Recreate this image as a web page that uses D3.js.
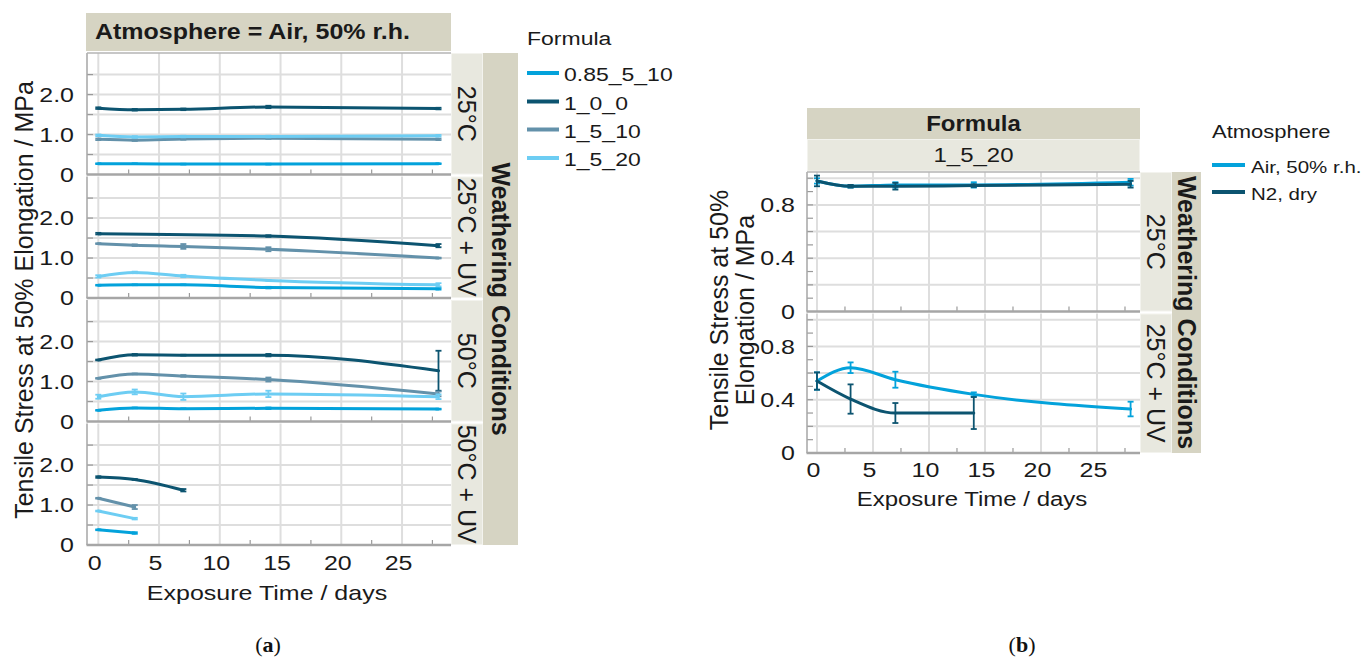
<!DOCTYPE html>
<html>
<head>
<meta charset="utf-8">
<script src="https://cdn.jsdelivr.net/npm/d3@7"></script>
<style>
  body { margin: 0; background: #ffffff; }
  svg { display: block; font-family: "Liberation Sans", Arial, sans-serif; }
</style>
</head>
<body>
<svg id="chart" width="1368" height="657"></svg>
<script>
// ---- data ---------------------------------------------------------------
// Exposure times in days
const days = [0, 3, 7, 14, 28];
const conditions = ["25°C", "25°C + UV", "50°C", "50°C + UV"];
const formulas = ["0.85_5_10", "1_0_0", "1_5_10", "1_5_20"];
const formulaColors = ["#03a2db", "#0c5470", "#6391aa", "#6dcdf3"];

// Tensile stress at 50 % elongation (MPa), Atmosphere = Air, 50% r.h.
// rows follow `conditions`, columns follow `days`
const stress_085_5_10 = [
  [0.27, 0.27, 0.26, 0.26, 0.27],
  [0.32, 0.33, 0.33, 0.26, 0.23],
  [0.28, 0.34, 0.32, 0.33, 0.31],
  [0.38, 0.30, null, null, null]
];
const stress_1_0_0 = [
  [1.66, 1.62, 1.63, 1.69, 1.65],
  [1.61, null, null, 1.55, 1.31],
  [1.54, 1.67, 1.66, 1.66, 1.27],
  [1.70, 1.64, 1.37, null, null]
];
const stress_1_5_10 = [
  [0.88, 0.86, 0.89, 0.91, 0.88],
  [1.36, 1.32, 1.29, 1.22, 1.00],
  [1.08, 1.19, 1.14, 1.05, 0.69],
  [1.17, 0.95, null, null, null]
];
const stress_1_5_20 = [
  [0.98, 0.94, 0.95, 0.95, 0.97],
  [0.54, 0.64, 0.55, 0.44, 0.33],
  [0.62, 0.74, 0.62, 0.69, 0.62],
  [0.85, 0.66, null, null, null]
];

// Standard deviations (MPa), same layout
const err_085_5_10 = [
  [0.01, 0.01, 0.01, 0.01, 0.01],
  [0.01, 0.01, 0.01, 0.02, 0.02],
  [0.01, 0.01, 0.01, 0.02, 0.01],
  [0.01, 0.02, null, null, null]
];
const err_1_0_0 = [
  [0.02, 0.02, 0.02, 0.03, 0.02],
  [0.02, null, null, 0.02, 0.04],
  [0.01, 0.02, 0.01, 0.03, 0.50],
  [0.02, 0.01, 0.03, null, null]
];
const err_1_5_10 = [
  [0.02, 0.02, 0.02, 0.02, 0.02],
  [0.01, 0.02, 0.06, 0.05, 0.01],
  [0.01, 0.01, 0.02, 0.05, 0.06],
  [0.01, 0.05, null, null, null]
];
const err_1_5_20 = [
  [0.02, 0.02, 0.02, 0.02, 0.02],
  [0.03, 0.02, 0.03, 0.01, 0.04],
  [0.05, 0.06, 0.08, 0.08, 0.06],
  [0.01, 0.02, null, null, null]
];

// Formula 1_5_20 under both atmospheres, conditions 25°C and 25°C + UV
const atmospheres = ["Air, 50% r.h.", "N2, dry"];
const atmosphereColors = ["#03a2db", "#0c5470"];
const conditionsB = ["25°C", "25°C + UV"];
const stressAir = [
  [0.98, 0.94, 0.95, 0.95, 0.97],
  [0.54, 0.64, 0.55, 0.44, 0.33]
];
const errAir = [
  [0.02, 0.01, 0.02, 0.02, 0.025],
  [0.065, 0.04, 0.06, 0.015, 0.055]
];
const stressN2 = [
  [0.98, 0.94, 0.94, 0.945, 0.955],
  [0.54, 0.405, 0.30, 0.30, null]
];
const errN2 = [
  [0.04, 0.01, 0.025, 0.01, 0.025],
  [0.065, 0.11, 0.075, 0.12, null]
];

// ---- helpers ------------------------------------------------------------
const SY = 0.83;           // vertical scale of horizontal labels
const TXT = "#1a1a1a";
const GRID = "#dedede";
const AXIS = "#a6a6a6";
const STRIP_DARK = "#d6d4c3";
const STRIP_LIGHT = "#e8e8df";
const FONT = "Liberation Sans, Arial, sans-serif";

const svg = d3.select("#chart");

function htext(parent, x, y, str, size, anchor = "start", weight = "normal", sy = SY) {
  return parent.append("text")
    .attr("transform", `translate(${x},${y}) scale(1,${sy})`)
    .attr("font-size", size)
    .attr("font-weight", weight)
    .attr("text-anchor", anchor)
    .attr("fill", TXT)
    .text(str);
}
function vtext(parent, x, y, str, size, angle, weight = "normal") {
  return parent.append("text")
    .attr("transform", `translate(${x},${y}) rotate(${angle})`)
    .attr("font-size", size)
    .attr("font-weight", weight)
    .attr("text-anchor", "middle")
    .attr("dy", "0.35em")
    .attr("fill", TXT)
    .text(str);
}
function squishAxisText(axisG, dx, dyPx) {
  axisG.selectAll("text").each(function () {
    const t = d3.select(this);
    const x = +t.attr("x") || 0;
    const y = +t.attr("y") || 0;
    t.attr("x", null).attr("y", null)
      .attr("transform", `translate(${x + dx},${y + dyPx}) scale(1,${SY})`);
  });
}

// one facet cell: grid, ticks, border lines
function drawCell(g, x, y, yGrid, yMinor, xGrid, xMinor) {
  const [x0, x1] = x.range();
  const [yb, yt] = y.range();
  g.append("rect").attr("x", x0).attr("y", yt).attr("width", x1 - x0).attr("height", yb - yt)
    .attr("fill", "#ffffff");
  g.append("g").selectAll("line").data(yGrid).join("line")
    .attr("x1", x0).attr("x2", x1).attr("y1", d => y(d)).attr("y2", d => y(d))
    .attr("stroke", GRID).attr("stroke-width", 2);
  g.append("g").selectAll("line").data(xGrid).join("line")
    .attr("x1", d => x(d)).attr("x2", d => x(d)).attr("y1", yt).attr("y2", yb)
    .attr("stroke", GRID).attr("stroke-width", 2);
  // left ticks
  g.append("g").selectAll("line").data(yMinor).join("line")
    .attr("x1", x0).attr("x2", x0 + 6).attr("y1", d => y(d)).attr("y2", d => y(d))
    .attr("stroke", "#9a9a9a").attr("stroke-width", 1.2);
  // bottom minor ticks
  g.append("g").selectAll("line").data(xMinor).join("line")
    .attr("x1", d => x(d)).attr("x2", d => x(d)).attr("y1", yb).attr("y2", yb - 5)
    .attr("stroke", "#9a9a9a").attr("stroke-width", 1.2);
  // left border and bottom axis line
  g.append("line").attr("x1", x0).attr("x2", x0).attr("y1", yt).attr("y2", yb)
    .attr("stroke", AXIS).attr("stroke-width", 1.5);
  g.append("line").attr("x1", x0 - 0.5).attr("x2", x1).attr("y1", yb).attr("y2", yb)
    .attr("stroke", AXIS).attr("stroke-width", 2.5);
}

// one series: smoothed line plus error bars
function drawSeries(g, x, y, vals, errs, color) {
  const pts = days.map((d, k) => ({ d, v: vals[k], e: errs[k] })).filter(p => p.v !== null);
  const line = d3.line().x(p => x(p.d)).y(p => y(p.v)).curve(d3.curveMonotoneX);
  g.append("path").datum(pts).attr("d", line)
    .attr("fill", "none").attr("stroke", color).attr("stroke-width", 3)
    .attr("stroke-linejoin", "round").attr("stroke-linecap", "round");
  const eb = g.append("g").attr("stroke", color).attr("stroke-width", 1.8);
  pts.filter(p => p.e !== null && p.e !== undefined).forEach(p => {
    const cx = x(p.d), ylo = y(p.v - p.e), yhi = y(p.v + p.e);
    eb.append("line").attr("x1", cx).attr("x2", cx).attr("y1", ylo).attr("y2", yhi);
    eb.append("line").attr("x1", cx - 3).attr("x2", cx + 3).attr("y1", ylo).attr("y2", ylo);
    eb.append("line").attr("x1", cx - 3).attr("x2", cx + 3).attr("y1", yhi).attr("y2", yhi);
  });
}

function styleTicks(axisG) {
  axisG.select(".domain").remove();
  axisG.selectAll("text").attr("font-size", 25).attr("fill", TXT).attr("font-family", FONT);
}

// ---- chart (a): Atmosphere = Air, 50% r.h. ------------------------------
const A = svg.append("g");
const ax0 = 87, ax1 = 451, aTop = 53, aCell = 121.5, aGap = 2;
const xA = d3.scaleLinear().domain([-0.93, 29.03]).range([ax0, ax1]);
const seriesA = [stress_085_5_10, stress_1_0_0, stress_1_5_10, stress_1_5_20];
const errorsA = [err_085_5_10, err_1_0_0, err_1_5_10, err_1_5_20];

// facet header
A.append("rect").attr("x", 86).attr("y", 13).attr("width", ax1 - 86).attr("height", 38)
  .attr("fill", STRIP_DARK);
htext(A, 95, 39, "Atmosphere = Air, 50% r.h.", 25, "start", "bold", 0.9);

conditions.forEach((cond, i) => {
  const top = aTop + i * (aCell + aGap);
  const bottom = top + aCell;
  const y = d3.scaleLinear().domain([0, 3.04]).range([bottom, top]);
  const cell = A.append("g");
  drawCell(cell, xA, y, [0.5, 1, 1.5, 2, 2.5], [0.5, 1, 1.5, 2, 2.5],
    [0, 5, 10, 15, 20, 25], [2.5, 7.5, 12.5, 17.5, 22.5, 27.5]);
  seriesA.forEach((s, f) => drawSeries(cell, xA, y, s[i], errorsA[f][i], formulaColors[f]));

  const yAxis = A.append("g").attr("transform", `translate(${ax0},0)`)
    .call(d3.axisLeft(y).tickValues([0, 1, 2])
      .tickFormat(d => d === 0 ? "0" : d3.format(".1f")(d)).tickSize(0).tickPadding(13));
  styleTicks(yAxis);
  squishAxisText(yAxis, 0, 0);

  // condition strip
  A.append("rect").attr("x", ax1 + 0.5).attr("y", top + 0.5).attr("width", 31).attr("height", aCell - 1)
    .attr("fill", STRIP_LIGHT).attr("stroke", "#f3f3ee").attr("stroke-width", 1);
  vtext(A, ax1 + 16, (top + bottom) / 2, cond, 25, 90);
});
// top border of first cell
A.append("line").attr("x1", ax0).attr("x2", ax1).attr("y1", aTop).attr("y2", aTop)
  .attr("stroke", "#b5b5b5").attr("stroke-width", 1.5);

const aBottom = aTop + 4 * aCell + 3 * aGap;
A.append("rect").attr("x", ax1 + 32).attr("y", aTop).attr("width", 35).attr("height", aBottom - aTop)
  .attr("fill", STRIP_DARK);
vtext(A, ax1 + 50, (aTop + aBottom) / 2, "Weathering Conditions", 25, 90, "bold");

// x axis
const xAxisA = A.append("g").attr("transform", `translate(0,${aBottom})`)
  .call(d3.axisBottom(xA).tickValues([0, 5, 10, 15, 20, 25]).tickSize(0));
styleTicks(xAxisA);
xAxisA.selectAll("text").attr("dy", null).attr("y", 0);
squishAxisText(xAxisA, -4, 25);
htext(A, 267, 600, "Exposure Time / days", 25, "middle");

// y title
vtext(A, 24, 300, "Tensile Stress at 50% Elongation / MPa", 25, -90);

// legend
htext(A, 527, 45, "Formula", 23);
formulas.forEach((f, k) => {
  const ly = [73, 101.5, 129.5, 158][k];
  A.append("line").attr("x1", 527).attr("x2", 559).attr("y1", ly).attr("y2", ly)
    .attr("stroke", formulaColors[k]).attr("stroke-width", 4);
  htext(A, 564, ly + 8, f, 23);
});

// ---- chart (b): Formula = 1_5_20 -----------------------------------------
const B = svg.append("g");
const bx0 = 807, bx1 = 1140, bTop = 172, bCell = 139.5, bGap = 2;
const xB = d3.scaleLinear().domain([-0.89, 28.84]).range([bx0, bx1]);
const seriesB = [stressAir, stressN2];
const errorsB = [errAir, errN2];

B.append("rect").attr("x", bx0).attr("y", 108).attr("width", bx1 - bx0).attr("height", 31)
  .attr("fill", STRIP_DARK);
htext(B, (bx0 + bx1) / 2, 131, "Formula", 24, "middle", "bold", 0.9);
B.append("rect").attr("x", bx0 + 0.5).attr("y", 139.5).attr("width", bx1 - bx0 - 1).attr("height", 31.5)
  .attr("fill", STRIP_LIGHT).attr("stroke", "#f3f3ee");
htext(B, (bx0 + bx1) / 2, 162, "1_5_20", 24, "middle");

conditionsB.forEach((cond, i) => {
  const top = bTop + i * (bCell + bGap);
  const bottom = top + bCell;
  const y = d3.scaleLinear().domain([0, 1.047]).range([bottom, top]);
  const cell = B.append("g");
  drawCell(cell, xB, y, [0.2, 0.4, 0.6, 0.8, 1.0], d3.range(1, 11).map(k => k / 10),
    [0, 5, 10, 15, 20, 25], [2.5, 7.5, 12.5, 17.5, 22.5, 27.5]);
  seriesB.forEach((s, a) => drawSeries(cell, xB, y, s[i], errorsB[a][i], atmosphereColors[a]));

  const yAxis = B.append("g").attr("transform", `translate(${bx0},0)`)
    .call(d3.axisLeft(y).tickValues([0, 0.4, 0.8])
      .tickFormat(d => d === 0 ? "0" : d3.format(".1f")(d)).tickSize(0).tickPadding(12));
  styleTicks(yAxis);
  squishAxisText(yAxis, 0, 0);

  B.append("rect").attr("x", bx1 + 0.5).attr("y", top + 0.5).attr("width", 31).attr("height", bCell - 1)
    .attr("fill", STRIP_LIGHT).attr("stroke", "#f3f3ee").attr("stroke-width", 1);
  vtext(B, bx1 + 16, (top + bottom) / 2, cond, 25, 90);
});
B.append("line").attr("x1", bx0).attr("x2", bx1).attr("y1", bTop).attr("y2", bTop)
  .attr("stroke", "#b5b5b5").attr("stroke-width", 1.5);

const bBottom = bTop + 2 * bCell + bGap;
B.append("rect").attr("x", bx1 + 32).attr("y", bTop).attr("width", 29).attr("height", bBottom - bTop)
  .attr("fill", STRIP_DARK);
vtext(B, bx1 + 47, (bTop + bBottom) / 2, "Weathering Conditions", 25, 90, "bold");

const xAxisB = B.append("g").attr("transform", `translate(0,${bBottom})`)
  .call(d3.axisBottom(xB).tickValues([0, 5, 10, 15, 20, 25]).tickSize(0));
styleTicks(xAxisB);
xAxisB.selectAll("text").attr("dy", null).attr("y", 0);
squishAxisText(xAxisB, -4, 24);
htext(B, 972, 506, "Exposure Time / days", 24, "middle");

vtext(B, 719, 310, "Tensile Stress at 50%", 25, -90);
vtext(B, 745, 310, "Elongation / MPa", 25, -90);

htext(B, 1212, 138, "Atmosphere", 22);
atmospheres.forEach((a, k) => {
  const ly = [165, 192][k];
  B.append("line").attr("x1", 1212).attr("x2", 1245).attr("y1", ly).attr("y2", ly)
    .attr("stroke", atmosphereColors[k]).attr("stroke-width", 4);
  htext(B, 1251, ly + 8, a, 20.5);
});

// ---- panel captions -------------------------------------------------------
[["a", 268], ["b", 1022]].forEach(([letter, cx]) => {
  const t = svg.append("text").attr("x", cx).attr("y", 652).attr("text-anchor", "middle")
    .attr("font-family", "Liberation Serif, 'Times New Roman', serif").attr("font-size", 22)
    .attr("fill", "#111");
  t.append("tspan").text("(");
  t.append("tspan").attr("font-weight", "bold").text(letter);
  t.append("tspan").text(")");
});
</script>
</body>
</html>
